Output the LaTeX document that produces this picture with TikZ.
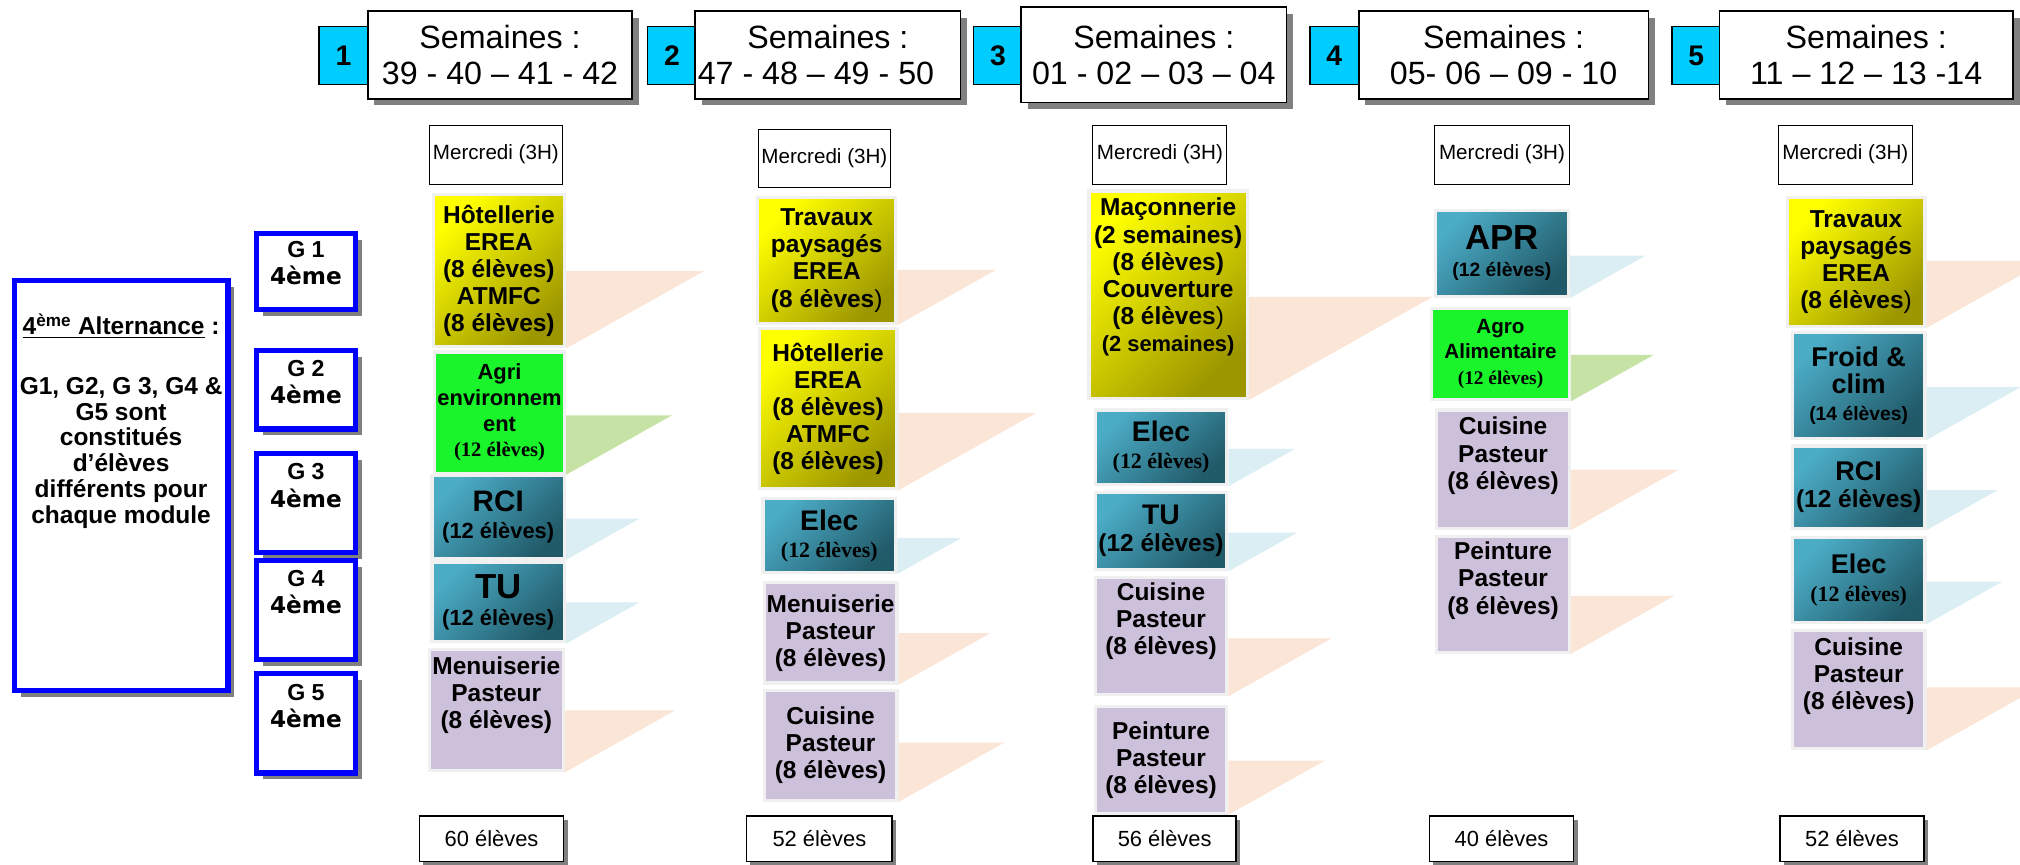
\documentclass[tikz,border=0pt]{standalone}
\usepackage{fontspec}
\setmainfont{Liberation Sans}
\newfontfamily\timesfont{Liberation Serif}
\newfontfamily\heavyfont{DejaVu Sans}
\usetikzlibrary{shadows}
\definecolor{numcyan}{HTML}{00CCFF}
\definecolor{grpblue}{HTML}{0000FF}
\definecolor{ylight}{HTML}{FFFF00}
\definecolor{ydark}{HTML}{9C9600}
\definecolor{tlight}{HTML}{4BACC6}
\definecolor{tdark}{HTML}{215A69}
\definecolor{agrgreen}{HTML}{1AF52B}
\definecolor{lilac}{HTML}{CCC0DA}
\definecolor{flagor}{HTML}{FBE5D6}
\definecolor{flaggr}{HTML}{C6E2A5}
\definecolor{flagbl}{HTML}{DAEEF3}
\definecolor{shadowgray}{HTML}{808080}
\newcommand{\sz}[1]{\fontsize{#1}{#1}\selectfont}
\newcommand{\serifcount}[2]{{\timesfont\bfseries\fontsize{#1}{#1}\selectfont #2}}
\tikzset{
    sshadow/.style={drop shadow={shadow xshift=5pt, shadow yshift=-5pt, fill=shadowgray, opacity=1}},
    hdrbox/.style={draw, line width=1.3pt, fill=white, sshadow, anchor=north west,
        inner sep=0pt, align=center, font=\fontsize{25}{28}\selectfont},
    numbox/.style={draw, line width=1.3pt, fill=numcyan, anchor=north west,
        inner sep=0pt, font=\fontsize{22}{24}\selectfont\bfseries},
    wedbox/.style={draw, line width=0.8pt, anchor=north west, inner sep=0pt,
        font=\fontsize{16}{18}\selectfont},
    totbox/.style={draw, line width=1.1pt, fill=white, anchor=north west, inner sep=0pt,
        drop shadow={shadow xshift=3pt, shadow yshift=-3pt, fill=shadowgray, opacity=1},
        font=\fontsize{17}{19}\selectfont},
    grpbox/.style={draw=grpblue, line width=4pt, fill=white, sshadow, anchor=north west,
        inner sep=0pt, font=\fontsize{18}{21}\selectfont\bfseries},
    cellbox/.style={draw=black!6, line width=2.5pt, anchor=north west, inner sep=0pt,
        align=center, font=\fontsize{19}{21}\selectfont\bfseries},
    yellowbox/.style={cellbox, top color=ylight, bottom color=ydark, shading angle=45},
    tealbox/.style={cellbox, top color=tlight, bottom color=tdark, shading angle=45},
    greenbox/.style={cellbox, fill=agrgreen},
    lilacbox/.style={cellbox, fill=lilac},
}
\begin{document}
\begin{tikzpicture}[x=1pt, y=-1pt]
\useasboundingbox (0,0) rectangle (1568,671);
% week headers
\node[numbox, minimum width=42pt, minimum height=45pt] (n1) at (247,20) {\hspace*{-4pt}1};
\node[numbox, minimum width=42pt, minimum height=45pt] (n2) at (502,20) {\hspace*{-4pt}2};
\node[numbox, minimum width=42pt, minimum height=45pt] (n3) at (755,20) {\hspace*{-4pt}3};
\node[numbox, minimum width=42pt, minimum height=45pt] (n4) at (1016,20) {\hspace*{-4pt}4};
\node[numbox, minimum width=42pt, minimum height=45pt] (n5) at (1297,20) {\hspace*{-4pt}5};
\node[hdrbox, minimum width=205pt, minimum height=68pt] (w1) at (285,8) {Semaines :\\39 - 40 – 41 - 42};
\node[hdrbox, minimum width=206pt, minimum height=68pt] (w2) at (539,8) {Semaines :\\\makebox[202pt][l]{47 - 48 – 49 - 50}};
\node[hdrbox, minimum width=206pt, minimum height=74pt] (w3) at (792,5) {Semaines :\\01 - 02 – 03 – 04};
\node[hdrbox, minimum width=225pt, minimum height=68pt] (w4) at (1054,8) {Semaines :\\05- 06 – 09 - 10};
\node[hdrbox, minimum width=228pt, minimum height=68pt] (w5) at (1334,8) {Semaines :\\11 – 12 – 13 -14};
% wednesday boxes
\node[wedbox, minimum width=103pt, minimum height=46pt] (m1) at (333,97) {\raisebox{5pt}{Mercredi (3H)}};
\node[wedbox, minimum width=103pt, minimum height=45pt] (m2) at (588,100) {\raisebox{3pt}{Mercredi (3H)}};
\node[wedbox, minimum width=104pt, minimum height=46pt] (m3) at (848,97) {\raisebox{5pt}{Mercredi (3H)}};
\node[wedbox, minimum width=105pt, minimum height=46pt] (m4) at (1113,97) {\raisebox{5pt}{Mercredi (3H)}};
\node[wedbox, minimum width=104pt, minimum height=46pt] (m5) at (1380,97) {\raisebox{5pt}{Mercredi (3H)}};
% groups
\node[grpbox, font=\fontsize{19}{20}\selectfont\bfseries] (alt) at (9,216) {\parbox[c][318pt][t]{166pt}{\centering\vspace*{26pt}%
    \underline{4\textsuperscript{ème} Alternance} :\\[26pt]
    G1, G2, G 3, G4 \&\\G5 sont\\constitués\\d’élèves\\différents pour\\chaque module}};
\node[grpbox] (g1) at (197,179) {\parbox[c][59pt][t]{77pt}{\centering\vspace*{6pt}G 1\\{\heavyfont\bfseries 4ème}}};
\node[grpbox] (g2) at (197,270) {\parbox[c][61pt][t]{77pt}{\centering\vspace*{8pt}G 2\\{\heavyfont\bfseries 4ème}}};
\node[grpbox] (g3) at (197,350) {\parbox[c][77pt][t]{77pt}{\centering\vspace*{8pt}G 3\\{\heavyfont\bfseries 4ème}}};
\node[grpbox] (g4) at (197,433) {\parbox[c][77pt][t]{77pt}{\centering\vspace*{8pt}G 4\\{\heavyfont\bfseries 4ème}}};
\node[grpbox] (g5) at (197,521) {\parbox[c][77pt][t]{77pt}{\centering\vspace*{8pt}G 5\\{\heavyfont\bfseries 4ème}}};
% column 1
\node[yellowbox, minimum width=102pt, minimum height=118pt] (c1a) at (335,150) {Hôtellerie\\EREA\\(8 élèves)\\ATMFC\\(8 élèves)};
\node[greenbox, minimum width=101pt, minimum height=94pt, font=\fontsize{17}{20}\selectfont\bfseries] (c1b) at (336,272) {Agri\\environnem\\ent\\\serifcount{16}{(12 élèves)}};
\node[tealbox, minimum width=103pt, minimum height=64pt] (c1c) at (334,368) {{\sz{23}RCI}\\{\sz{17}(12 élèves)}};
\node[tealbox, minimum width=103pt, minimum height=62pt] (c1d) at (334,435) {{\sz{27}TU}\\{\sz{17}(12 élèves)}};
\node[lilacbox, minimum width=104pt, minimum height=94pt] (c1e) at (332,503) {Menuiserie\\Pasteur\\(8 élèves)\\[6pt]};
% column 2
\node[yellowbox, minimum width=107pt, minimum height=98pt] (c2a) at (587,152) {Travaux\\paysagés\\EREA\\(8 élèves\textmd{)}};
\node[yellowbox, minimum width=107pt, minimum height=124pt] (c2b) at (588,254) {Hôtellerie\\EREA\\(8 élèves)\\ATMFC\\(8 élèves)};
\node[tealbox, minimum width=103pt, minimum height=57pt] (c2c) at (591,386) {{\sz{22}Elec}\\\serifcount{17}{(12 élèves)}};
\node[lilacbox, minimum width=103pt, minimum height=78pt] (c2d) at (592,451) {Menuiserie\\Pasteur\\(8 élèves)};
\node[lilacbox, minimum width=103pt, minimum height=85pt] (c2e) at (592,535) {Cuisine\\Pasteur\\(8 élèves)};
% column 3
\node[yellowbox, minimum width=123pt, minimum height=161pt] (c3a) at (844,147) {Maçonnerie\\(2 semaines)\\(8 élèves)\\Couverture\\(8 élèves\textmd{)}\\{\sz{17}(2 semaines)}\\[10pt]};
\node[tealbox, minimum width=102pt, minimum height=58pt] (c3b) at (849,317) {{\sz{22}Elec}\\\serifcount{17}{(12 élèves)}};
\node[tealbox, minimum width=102pt, minimum height=60pt] (c3c) at (849,381) {{\sz{22}TU}\\(12 élèves)};
\node[lilacbox, minimum width=102pt, minimum height=91pt] (c3d) at (849,447) {Cuisine\\Pasteur\\(8 élèves)\\[6pt]};
\node[lilacbox, minimum width=102pt, minimum height=83pt] (c3e) at (849,547) {Peinture\\Pasteur\\(8 élèves)};
% column 4
\node[tealbox, minimum width=103pt, minimum height=67pt] (c4a) at (1113,162) {{\sz{27}APR}\\{\sz{15}(12 élèves)}};
\node[greenbox, minimum width=107pt, minimum height=71pt, font=\fontsize{16}{20}\selectfont\bfseries] (c4b) at (1110,238) {Agro\\Alimentaire\\\serifcount{15}{(12 élèves)}};
\node[lilacbox, minimum width=103pt, minimum height=92pt] (c4c) at (1114,317) {Cuisine\\Pasteur\\(8 élèves)\\[4pt]};
\node[lilacbox, minimum width=103pt, minimum height=90pt] (c4d) at (1114,415) {Peinture\\Pasteur\\(8 élèves)\\[4pt]};
% column 5
\node[yellowbox, minimum width=107pt, minimum height=100pt] (c5a) at (1386,152) {Travaux\\paysagés\\EREA\\(8 élèves\textmd{)}};
\node[tealbox, minimum width=103pt, minimum height=82pt] (c5b) at (1390,257) {{\sz{21}Froid \&}\\{\sz{21}clim}\\{\sz{15}(14 élèves)}};
\node[tealbox, minimum width=103pt, minimum height=64pt] (c5c) at (1390,345) {{\sz{21}RCI}\\(12 élèves)};
\node[tealbox, minimum width=103pt, minimum height=66pt] (c5d) at (1390,416) {{\sz{21}Elec}\\\serifcount{17}{(12 élèves)}};
\node[lilacbox, minimum width=103pt, minimum height=92pt] (c5e) at (1390,488) {Cuisine\\Pasteur\\(8 élèves)\\[4pt]};
% flags
\foreach \b/\h/\c in {c1a/60/flagor, c1b/46/flaggr, c1c/32/flagbl, c1d/32/flagbl, c1e/48/flagor,
    c2a/43/flagor, c2b/60/flagor, c2c/28/flagbl, c2d/40/flagor, c2e/46/flagor,
    c3a/80/flagor, c3b/29/flagbl, c3c/30/flagbl, c3d/45/flagor, c3e/42/flagor,
    c4a/33/flagbl, c4b/36/flaggr, c4c/47/flagor, c4d/45/flagor,
    c5a/52/flagor, c5b/41/flagbl, c5c/31/flagbl, c5d/33/flagbl, c5e/49/flagor}
    \fill[\c] (\b.south east) -- ++(0,-\h) -- ++(\h*1.78,0) -- cycle;
% totals
\node[totbox, minimum width=112pt, minimum height=35pt] (t1) at (325,633) {60 élèves};
\node[totbox, minimum width=113pt, minimum height=35pt] (t2) at (579,633) {52 élèves};
\node[totbox, minimum width=111pt, minimum height=35pt] (t3) at (848,633) {56 élèves};
\node[totbox, minimum width=112pt, minimum height=35pt] (t4) at (1109,633) {40 élèves};
\node[totbox, minimum width=112pt, minimum height=35pt] (t5) at (1381,633) {52 élèves};
\end{tikzpicture}
\end{document}
